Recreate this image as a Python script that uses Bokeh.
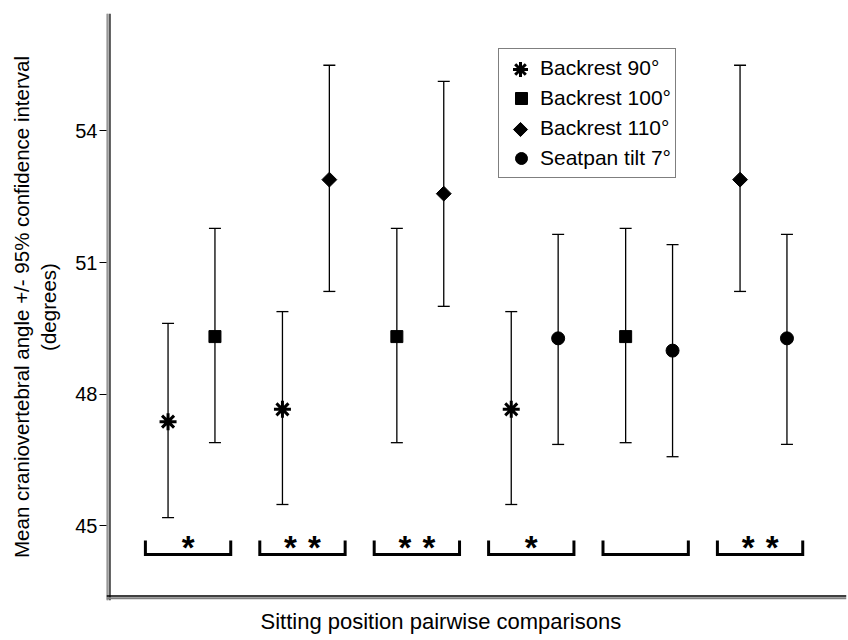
import numpy as np
import pandas as pd
from bokeh.plotting import figure
from bokeh.models import (ColumnDataSource, Range1d, Span, Whisker, TeeHead,
                          Legend, LegendItem, FixedTicker, Title)
from bokeh.core.properties import value
from bokeh.embed import file_html
from bokeh.resources import INLINE

# ---------------- data ----------------
groups = [1, 2, 3, 4, 5, 6]
left_series = ["Backrest 90°", "Backrest 90°", "Backrest 100°",
               "Backrest 90°", "Backrest 100°", "Backrest 110°"]
right_series = ["Backrest 100°", "Backrest 110°", "Backrest 110°",
                "Seatpan tilt 7°", "Seatpan tilt 7°", "Seatpan tilt 7°"]
left_mean = [47.37, 47.65, 49.31, 47.65, 49.31, 52.89]
left_lo = [45.18, 45.48, 46.89, 45.48, 46.89, 50.34]
left_hi = [49.61, 49.88, 51.78, 49.88, 51.78, 55.50]
right_mean = [49.31, 52.89, 52.57, 49.27, 48.99, 49.27]
right_lo = [46.89, 50.34, 50.00, 46.85, 46.57, 46.85]
right_hi = [51.78, 55.50, 55.13, 51.64, 51.41, 51.64]
significance = ["*", "**", "**", "*", "", "**"]
series_order = ["Backrest 90°", "Backrest 100°", "Backrest 110°", "Seatpan tilt 7°"]
y_ticks = [45, 48, 51, 54]
x_title = "Sitting position pairwise comparisons"
y_title = "Mean craniovertebral angle +/- 95% confidence interval\n(degrees)"

# ---------------- layout constants ----------------
FONT = "Liberation Sans"
W, H = 848, 640
FL, FR, FT, FB = 106, 846, 13, 600          # frame edges (px)
X0, X1 = 0.257, 6.7255
Y0, Y1 = 43.29, 56.68
PAIR_OFF = 0.205
BR_SHIFT, BR_HALF = -0.03, 0.373
BR_TOP, BR_BOT = 44.66, 44.34
STAR_Y = 44.50
STAR_SEP = 0.105

# legend geometry (px, relative to frame bottom-left)
LEG_X, LEG_Y = 392, 422
LEG_PAD, LEG_GW, LEG_ROW = 4, 36, 30


def px2x(p):
    return X0 + (p - FL) * (X1 - X0) / (FR - FL)


def py2y(p):
    return Y1 - (p - FT) * (Y1 - Y0) / (FB - FT)


rows = []
for g, s, m, lo, hi in zip(groups, left_series, left_mean, left_lo, left_hi):
    rows.append(dict(x=g - PAIR_OFF, series=s, mean=m, lo=lo, hi=hi))
for g, s, m, lo, hi in zip(groups, right_series, right_mean, right_lo, right_hi):
    rows.append(dict(x=g + PAIR_OFF, series=s, mean=m, lo=lo, hi=hi))
df = pd.DataFrame(rows)

p = figure(width=W, height=H, output_backend="svg", toolbar_location=None,
           x_range=Range1d(X0, X1), y_range=Range1d(Y0, Y1),
           min_border_left=FL, min_border_right=W - FR,
           min_border_top=FT, min_border_bottom=H - FB)
p.outline_line_color = None
p.xgrid.visible = False
p.ygrid.visible = False
p.background_fill_color = "white"
p.border_fill_color = "white"

# axes
p.yaxis.ticker = FixedTicker(ticks=y_ticks)
p.yaxis.axis_line_color = None
p.yaxis.major_tick_out = 7
p.yaxis.major_tick_in = 0
p.yaxis.major_tick_line_color = "black"
p.yaxis.minor_tick_line_color = None
p.yaxis.major_label_text_font = FONT
p.yaxis.major_label_text_font_size = "20px"
p.yaxis.major_label_text_color = "black"
p.yaxis.major_label_standoff = 2
p.yaxis.axis_label = y_title
p.yaxis.axis_label_text_font = FONT
p.yaxis.axis_label_text_font_size = "20.5px"
p.yaxis.axis_label_text_font_style = "normal"
p.yaxis.axis_label_text_color = "black"
p.yaxis.axis_label_standoff = 12

p.xaxis.visible = False

# x title (slightly left of frame centre, as in the reference)
p.add_layout(Title(text=x_title, align="left", offset=154, standoff=13,
                   text_font=FONT, text_font_size="22px", text_font_style="normal",
                   text_color="black"), "below")

# double axis lines
p.add_layout(Span(location=px2x(106.5), dimension="height", line_color="black", line_width=1))
p.add_layout(Span(location=px2x(108.0), dimension="height", line_color="#b0b0b0", line_width=2))
p.add_layout(Span(location=px2x(109.5), dimension="height", line_color="black", line_width=1.2))
p.add_layout(Span(location=py2y(595.5), dimension="width", line_color="black", line_width=1.5))
p.add_layout(Span(location=py2y(597.8), dimension="width", line_color="#808080", line_width=2))

# error bars
src_all = ColumnDataSource(df)
p.add_layout(Whisker(base="x", lower="lo", upper="hi", source=src_all,
                     dimension="height", line_color="black", line_width=1.3,
                     upper_head=TeeHead(size=12, line_color="black", line_width=1.3),
                     lower_head=TeeHead(size=12, line_color="black", line_width=1.3)))

styles = {
    "Backrest 90°": dict(marker="asterisk", size=17, line_width=3, angle=0.0,
                         leg_size=15, overlay=True),
    "Backrest 100°": dict(marker="square", size=12, line_width=1, angle=0.0,
                          leg_size=12, overlay=False),
    "Backrest 110°": dict(marker="square", size=10.5, line_width=1, angle=np.pi / 4,
                          leg_size=10, overlay=True),
    "Seatpan tilt 7°": dict(marker="circle", size=13, line_width=1, angle=0.0,
                            leg_size=13, overlay=False),
}
items = []
for k, s in enumerate(series_order):
    sub = ColumnDataSource(df[df.series == s])
    st = styles[s]
    r = p.scatter("x", "mean", source=sub, marker=st["marker"], size=st["size"],
                  angle=st["angle"], line_color="black", fill_color="black",
                  line_width=st["line_width"])
    if st["overlay"]:
        # Bokeh draws legend samples un-rotated and at a fixed size: use an
        # invisible stand-in and draw the sample itself inside the legend box
        r_leg = p.scatter([np.nan], [np.nan], marker="square", size=1,
                          fill_alpha=0, line_alpha=0)
        items.append(LegendItem(label=s, renderers=[r_leg]))
        lx = FL + LEG_X + LEG_PAD + LEG_GW / 2
        ly = FB - LEG_Y - (2 * LEG_PAD + LEG_ROW * 4) + LEG_PAD + LEG_ROW * (k + 0.5)
        ov = p.scatter([px2x(lx)], [py2y(ly)], marker=st["marker"], size=st["leg_size"],
                       angle=st["angle"], line_color="black", fill_color="black",
                       line_width=st["line_width"])
        ov.level = "overlay"
    else:
        items.append(LegendItem(label=s, renderers=[r]))

# significance brackets
bx, by = [], []
for g in groups:
    c = g + BR_SHIFT
    bx.append([c - BR_HALF, c - BR_HALF, c + BR_HALF, c + BR_HALF])
    by.append([BR_TOP, BR_BOT, BR_BOT, BR_TOP])
p.multi_line(bx, by, line_color="black", line_width=3, line_join="miter")

sx, sy = [], []
for g, sig in zip(groups, significance):
    n = len(sig)
    if n == 1:
        sx.append(g + BR_SHIFT)
        sy.append(STAR_Y)
    elif n == 2:
        sx += [g + BR_SHIFT - STAR_SEP, g + BR_SHIFT + STAR_SEP]
        sy += [STAR_Y, STAR_Y]
p.text(sx, sy, text=["*"] * len(sx), text_font=value(FONT), text_font_size="33px",
       text_font_style="bold", text_align="center", text_baseline="middle",
       text_color="black")

legend = Legend(items=items, location=(LEG_X, LEG_Y),
                glyph_width=LEG_GW, glyph_height=LEG_ROW, label_height=LEG_ROW, spacing=0,
                padding=LEG_PAD, margin=0, label_standoff=1,
                label_text_font=FONT, label_text_font_size="21px",
                label_text_color="black",
                border_line_color="black", border_line_width=1.5,
                background_fill_color="white", background_fill_alpha=0.0)
p.add_layout(legend, "center")

open("out.html", "w").write(file_html(p, INLINE))
